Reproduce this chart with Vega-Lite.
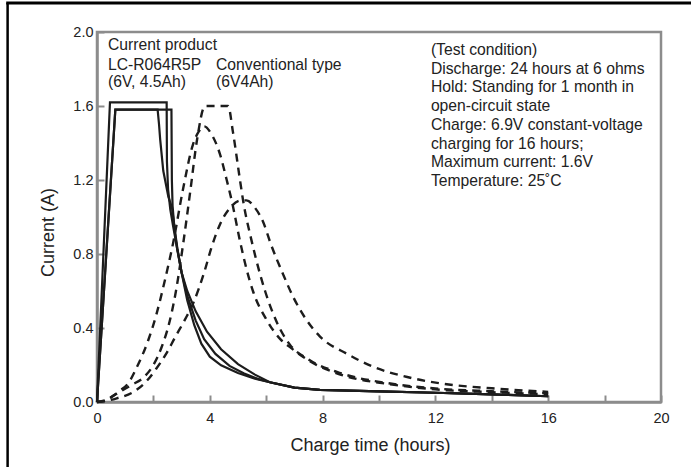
{
  "$schema": "https://vega.github.io/schema/vega-lite/v6.json",
  "width": 564,
  "height": 370,
  "autosize": {"type": "none"},
  "padding": {"left": 97, "top": 32, "right": 30, "bottom": 65},
  "background": "white",
  "config": {
    "font": "Liberation Sans",
    "view": {"stroke": "#8c8c8c", "strokeWidth": 2.5},
    "axis": {
      "grid": false,
      "domainColor": "#8c8c8c",
      "domainWidth": 2.5,
      "tickColor": "#8c8c8c",
      "tickWidth": 2,
      "tickSize": -7,
      "labelFont": "Liberation Sans",
      "labelFontSize": 14.5,
      "labelColor": "#222222",
      "labelFlush": false,
      "labelOverlap": false,
      "titleFont": "Liberation Sans",
      "titleFontSize": 18,
      "titleFontWeight": "normal",
      "titleColor": "#222222"
    }
  },
  "datasets": {
    "curves": [
      {"curve": "A", "kind": "solid", "t": 0, "a": 0},
      {"curve": "A", "kind": "solid", "t": 0.46, "a": 1.62},
      {"curve": "A", "kind": "solid", "t": 2.47, "a": 1.62},
      {"curve": "A", "kind": "solid", "t": 2.48, "a": 1.3},
      {"curve": "A", "kind": "solid", "t": 2.52, "a": 1.15},
      {"curve": "A", "kind": "solid", "t": 2.6, "a": 1.04},
      {"curve": "A", "kind": "solid", "t": 2.7, "a": 0.95},
      {"curve": "A", "kind": "solid", "t": 2.83, "a": 0.84},
      {"curve": "A", "kind": "solid", "t": 3.0, "a": 0.7},
      {"curve": "A", "kind": "solid", "t": 3.2, "a": 0.6},
      {"curve": "A", "kind": "solid", "t": 3.5, "a": 0.49},
      {"curve": "A", "kind": "solid", "t": 3.9, "a": 0.38},
      {"curve": "A", "kind": "solid", "t": 4.4, "a": 0.285},
      {"curve": "A", "kind": "solid", "t": 5.0, "a": 0.205},
      {"curve": "A", "kind": "solid", "t": 5.6, "a": 0.148},
      {"curve": "A", "kind": "solid", "t": 6.13, "a": 0.107},
      {"curve": "A", "kind": "solid", "t": 7.0, "a": 0.078},
      {"curve": "A", "kind": "solid", "t": 7.9, "a": 0.066},
      {"curve": "A", "kind": "solid", "t": 10, "a": 0.057},
      {"curve": "A", "kind": "solid", "t": 12, "a": 0.05},
      {"curve": "A", "kind": "solid", "t": 14, "a": 0.041},
      {"curve": "A", "kind": "solid", "t": 16, "a": 0.031},
      {"curve": "B", "kind": "solid", "t": 0, "a": 0},
      {"curve": "B", "kind": "solid", "t": 0.65, "a": 1.58},
      {"curve": "B", "kind": "solid", "t": 2.64, "a": 1.58},
      {"curve": "B", "kind": "solid", "t": 2.655, "a": 1.2},
      {"curve": "B", "kind": "solid", "t": 2.68, "a": 1.06},
      {"curve": "B", "kind": "solid", "t": 2.75, "a": 0.93},
      {"curve": "B", "kind": "solid", "t": 2.84, "a": 0.83},
      {"curve": "B", "kind": "solid", "t": 3.0, "a": 0.7},
      {"curve": "B", "kind": "solid", "t": 3.2, "a": 0.575},
      {"curve": "B", "kind": "solid", "t": 3.5, "a": 0.44},
      {"curve": "B", "kind": "solid", "t": 3.8, "a": 0.34},
      {"curve": "B", "kind": "solid", "t": 4.2, "a": 0.26},
      {"curve": "B", "kind": "solid", "t": 4.7, "a": 0.195},
      {"curve": "B", "kind": "solid", "t": 5.2, "a": 0.155},
      {"curve": "B", "kind": "solid", "t": 5.7, "a": 0.125},
      {"curve": "B", "kind": "solid", "t": 6.13, "a": 0.107},
      {"curve": "B", "kind": "solid", "t": 7.0, "a": 0.078},
      {"curve": "B", "kind": "solid", "t": 7.9, "a": 0.066},
      {"curve": "B", "kind": "solid", "t": 10, "a": 0.057},
      {"curve": "B", "kind": "solid", "t": 12, "a": 0.05},
      {"curve": "B", "kind": "solid", "t": 14, "a": 0.041},
      {"curve": "B", "kind": "solid", "t": 16, "a": 0.031},
      {"curve": "C", "kind": "solid", "t": 0, "a": 0},
      {"curve": "C", "kind": "solid", "t": 0.65, "a": 1.58},
      {"curve": "C", "kind": "solid", "t": 2.15, "a": 1.58},
      {"curve": "C", "kind": "solid", "t": 2.2, "a": 1.5},
      {"curve": "C", "kind": "solid", "t": 2.24, "a": 1.42},
      {"curve": "C", "kind": "solid", "t": 2.35, "a": 1.25},
      {"curve": "C", "kind": "solid", "t": 2.53, "a": 1.11},
      {"curve": "C", "kind": "solid", "t": 2.66, "a": 1.05},
      {"curve": "C", "kind": "solid", "t": 2.75, "a": 0.94},
      {"curve": "C", "kind": "solid", "t": 2.85, "a": 0.83},
      {"curve": "C", "kind": "solid", "t": 3.0, "a": 0.7},
      {"curve": "C", "kind": "solid", "t": 3.2, "a": 0.55},
      {"curve": "C", "kind": "solid", "t": 3.45, "a": 0.415},
      {"curve": "C", "kind": "solid", "t": 3.7, "a": 0.315},
      {"curve": "C", "kind": "solid", "t": 4.0, "a": 0.245},
      {"curve": "C", "kind": "solid", "t": 4.4, "a": 0.198},
      {"curve": "C", "kind": "solid", "t": 5.0, "a": 0.157},
      {"curve": "C", "kind": "solid", "t": 5.6, "a": 0.126},
      {"curve": "C", "kind": "solid", "t": 6.13, "a": 0.107},
      {"curve": "C", "kind": "solid", "t": 7.0, "a": 0.078},
      {"curve": "C", "kind": "solid", "t": 7.9, "a": 0.066},
      {"curve": "C", "kind": "solid", "t": 10, "a": 0.057},
      {"curve": "C", "kind": "solid", "t": 12, "a": 0.05},
      {"curve": "C", "kind": "solid", "t": 14, "a": 0.041},
      {"curve": "C", "kind": "solid", "t": 16, "a": 0.031},
      {"curve": "D1", "kind": "dashed", "t": 0, "a": 0},
      {"curve": "D1", "kind": "dashed", "t": 0.2, "a": 0.003},
      {"curve": "D1", "kind": "dashed", "t": 0.5, "a": 0.025},
      {"curve": "D1", "kind": "dashed", "t": 0.8, "a": 0.06},
      {"curve": "D1", "kind": "dashed", "t": 1.1, "a": 0.1},
      {"curve": "D1", "kind": "dashed", "t": 1.45, "a": 0.2},
      {"curve": "D1", "kind": "dashed", "t": 1.82, "a": 0.335},
      {"curve": "D1", "kind": "dashed", "t": 2.1, "a": 0.47},
      {"curve": "D1", "kind": "dashed", "t": 2.41, "a": 0.66},
      {"curve": "D1", "kind": "dashed", "t": 2.7, "a": 0.86},
      {"curve": "D1", "kind": "dashed", "t": 3.05, "a": 1.15},
      {"curve": "D1", "kind": "dashed", "t": 3.4, "a": 1.39},
      {"curve": "D1", "kind": "dashed", "t": 3.6, "a": 1.46},
      {"curve": "D1", "kind": "dashed", "t": 3.8, "a": 1.49},
      {"curve": "D1", "kind": "dashed", "t": 4.05, "a": 1.45},
      {"curve": "D1", "kind": "dashed", "t": 4.36, "a": 1.34},
      {"curve": "D1", "kind": "dashed", "t": 4.6, "a": 1.2},
      {"curve": "D1", "kind": "dashed", "t": 4.79, "a": 1.08},
      {"curve": "D1", "kind": "dashed", "t": 5.07, "a": 0.87},
      {"curve": "D1", "kind": "dashed", "t": 5.3, "a": 0.72},
      {"curve": "D1", "kind": "dashed", "t": 5.53, "a": 0.6},
      {"curve": "D1", "kind": "dashed", "t": 6.03, "a": 0.44},
      {"curve": "D1", "kind": "dashed", "t": 6.5, "a": 0.34},
      {"curve": "D1", "kind": "dashed", "t": 6.9, "a": 0.29},
      {"curve": "D1", "kind": "dashed", "t": 7.5, "a": 0.225},
      {"curve": "D1", "kind": "dashed", "t": 8.6, "a": 0.15},
      {"curve": "D1", "kind": "dashed", "t": 10.4, "a": 0.096},
      {"curve": "D1", "kind": "dashed", "t": 12, "a": 0.068},
      {"curve": "D1", "kind": "dashed", "t": 14, "a": 0.053},
      {"curve": "D1", "kind": "dashed", "t": 16, "a": 0.042},
      {"curve": "D2", "kind": "dashed", "t": 0, "a": 0},
      {"curve": "D2", "kind": "dashed", "t": 0.3, "a": 0.01},
      {"curve": "D2", "kind": "dashed", "t": 0.64, "a": 0.04},
      {"curve": "D2", "kind": "dashed", "t": 1.2, "a": 0.09},
      {"curve": "D2", "kind": "dashed", "t": 1.7, "a": 0.14},
      {"curve": "D2", "kind": "dashed", "t": 2.0, "a": 0.2},
      {"curve": "D2", "kind": "dashed", "t": 2.3, "a": 0.3},
      {"curve": "D2", "kind": "dashed", "t": 2.55, "a": 0.42},
      {"curve": "D2", "kind": "dashed", "t": 2.8, "a": 0.6},
      {"curve": "D2", "kind": "dashed", "t": 3.06, "a": 0.86},
      {"curve": "D2", "kind": "dashed", "t": 3.3, "a": 1.13},
      {"curve": "D2", "kind": "dashed", "t": 3.55, "a": 1.42},
      {"curve": "D2", "kind": "dashed", "t": 3.83, "a": 1.6},
      {"curve": "D2", "kind": "dashed", "t": 4.65, "a": 1.6},
      {"curve": "D2", "kind": "dashed", "t": 4.82, "a": 1.46},
      {"curve": "D2", "kind": "dashed", "t": 5.07, "a": 1.2},
      {"curve": "D2", "kind": "dashed", "t": 5.18, "a": 1.09},
      {"curve": "D2", "kind": "dashed", "t": 5.5, "a": 0.86},
      {"curve": "D2", "kind": "dashed", "t": 5.96, "a": 0.6},
      {"curve": "D2", "kind": "dashed", "t": 6.38, "a": 0.43},
      {"curve": "D2", "kind": "dashed", "t": 6.84, "a": 0.31},
      {"curve": "D2", "kind": "dashed", "t": 7.5, "a": 0.23},
      {"curve": "D2", "kind": "dashed", "t": 8.6, "a": 0.158},
      {"curve": "D2", "kind": "dashed", "t": 10.4, "a": 0.1},
      {"curve": "D2", "kind": "dashed", "t": 12, "a": 0.073},
      {"curve": "D2", "kind": "dashed", "t": 14, "a": 0.058},
      {"curve": "D2", "kind": "dashed", "t": 16, "a": 0.047},
      {"curve": "D3", "kind": "dashed", "t": 0, "a": 0},
      {"curve": "D3", "kind": "dashed", "t": 0.3, "a": 0.005},
      {"curve": "D3", "kind": "dashed", "t": 0.7, "a": 0.02},
      {"curve": "D3", "kind": "dashed", "t": 1.35, "a": 0.06},
      {"curve": "D3", "kind": "dashed", "t": 1.8, "a": 0.12},
      {"curve": "D3", "kind": "dashed", "t": 2.1, "a": 0.18},
      {"curve": "D3", "kind": "dashed", "t": 2.45, "a": 0.26},
      {"curve": "D3", "kind": "dashed", "t": 2.77, "a": 0.35},
      {"curve": "D3", "kind": "dashed", "t": 3.1, "a": 0.44},
      {"curve": "D3", "kind": "dashed", "t": 3.4, "a": 0.53},
      {"curve": "D3", "kind": "dashed", "t": 3.8, "a": 0.7},
      {"curve": "D3", "kind": "dashed", "t": 4.05, "a": 0.83},
      {"curve": "D3", "kind": "dashed", "t": 4.36, "a": 0.96},
      {"curve": "D3", "kind": "dashed", "t": 4.72, "a": 1.05},
      {"curve": "D3", "kind": "dashed", "t": 5.1, "a": 1.09},
      {"curve": "D3", "kind": "dashed", "t": 5.3, "a": 1.09},
      {"curve": "D3", "kind": "dashed", "t": 5.6, "a": 1.05},
      {"curve": "D3", "kind": "dashed", "t": 5.9, "a": 0.97},
      {"curve": "D3", "kind": "dashed", "t": 6.15, "a": 0.86},
      {"curve": "D3", "kind": "dashed", "t": 6.6, "a": 0.69},
      {"curve": "D3", "kind": "dashed", "t": 6.95, "a": 0.57},
      {"curve": "D3", "kind": "dashed", "t": 7.4, "a": 0.45},
      {"curve": "D3", "kind": "dashed", "t": 7.9, "a": 0.355},
      {"curve": "D3", "kind": "dashed", "t": 8.87, "a": 0.26},
      {"curve": "D3", "kind": "dashed", "t": 9.8, "a": 0.19},
      {"curve": "D3", "kind": "dashed", "t": 11, "a": 0.135},
      {"curve": "D3", "kind": "dashed", "t": 12.2, "a": 0.1},
      {"curve": "D3", "kind": "dashed", "t": 14, "a": 0.074},
      {"curve": "D3", "kind": "dashed", "t": 16, "a": 0.055}
    ],
    "labels": [
      {"t": 0.39, "a": 1.903, "txt": "Current product"},
      {"t": 0.39, "a": 1.795, "txt": "LC-R064R5P"},
      {"t": 0.39, "a": 1.703, "txt": "(6V, 4.5Ah)"},
      {"t": 4.22, "a": 1.795, "txt": "Conventional type"},
      {"t": 4.22, "a": 1.703, "txt": "(6V4Ah)"},
      {"t": 11.84, "a": 1.876, "txt": "(Test condition)"},
      {"t": 11.84, "a": 1.774, "txt": "Discharge: 24 hours at 6 ohms"},
      {"t": 11.84, "a": 1.673, "txt": "Hold: Standing for 1 month in"},
      {"t": 11.84, "a": 1.572, "txt": "open-circuit state"},
      {"t": 11.84, "a": 1.47, "txt": "Charge: 6.9V constant-voltage"},
      {"t": 11.84, "a": 1.369, "txt": "charging for 16 hours;"},
      {"t": 11.84, "a": 1.268, "txt": "Maximum current: 1.6V"},
      {"t": 11.84, "a": 1.166, "txt": "Temperature: 25˚C"}
    ]
  },
  "layer": [
    {
      "data": {"name": "curves"},
      "transform": [{"filter": "datum.kind === 'solid'"}],
      "mark": {"type": "line", "interpolate": "linear", "strokeWidth": 2.2, "color": "#1c1c1c", "clip": false},
      "encoding": {
        "x": {
          "field": "t", "type": "quantitative",
          "scale": {"domain": [0, 20], "nice": false, "zero": true},
          "axis": {
            "title": "Charge time (hours)",
            "values": [0, 2, 4, 6, 8, 10, 12, 14, 16, 18, 20],
            "labelExpr": "datum.value % 4 === 0 ? datum.label : ''",
            "labelPadding": 16,
            "titleX": 273,
            "titleY": 48,
            "titleBaseline": "alphabetic",
            "titleAlign": "center"
          }
        },
        "y": {
          "field": "a", "type": "quantitative",
          "scale": {"domain": [0, 2], "nice": false},
          "axis": {
            "title": "Current (A)",
            "values": [0, 0.4, 0.8, 1.2, 1.6, 2.0],
            "format": ".1f",
            "labelPadding": 11,
            "titleAngle": 270,
            "titleX": -44,
            "titleY": 200,
            "titleBaseline": "alphabetic",
            "titleAlign": "center"
          }
        },
        "detail": {"field": "curve", "type": "nominal"}
      }
    },
    {
      "data": {"name": "curves"},
      "transform": [{"filter": "datum.kind === 'dashed'"}],
      "mark": {"type": "line", "interpolate": "monotone", "strokeWidth": 2.4, "strokeDash": [8, 6], "color": "#1c1c1c", "clip": false},
      "encoding": {
        "x": {"field": "t", "type": "quantitative"},
        "y": {"field": "a", "type": "quantitative"},
        "detail": {"field": "curve", "type": "nominal"}
      }
    },
    {
      "data": {"name": "labels"},
      "mark": {"type": "text", "align": "left", "baseline": "alphabetic", "font": "Liberation Sans", "fontSize": 15.7, "color": "#222222"},
      "encoding": {
        "x": {"field": "t", "type": "quantitative"},
        "y": {"field": "a", "type": "quantitative"},
        "text": {"field": "txt"}
      }
    },
    {
      "data": {"values": [{"side": "left"}]},
      "mark": {"type": "rule", "color": "#000000", "strokeWidth": 2.5, "clip": false},
      "encoding": {
        "x": {"datum": -3.17, "type": "quantitative"},
        "y": {"datum": -0.4, "type": "quantitative"},
        "y2": {"datum": 2.157}
      }
    },
    {
      "data": {"values": [{"side": "top"}]},
      "mark": {"type": "rule", "color": "#000000", "strokeWidth": 3, "clip": false},
      "encoding": {
        "x": {"datum": -3.22, "type": "quantitative"},
        "x2": {"datum": 21.3},
        "y": {"datum": 2.157, "type": "quantitative"}
      }
    }
  ]
}
